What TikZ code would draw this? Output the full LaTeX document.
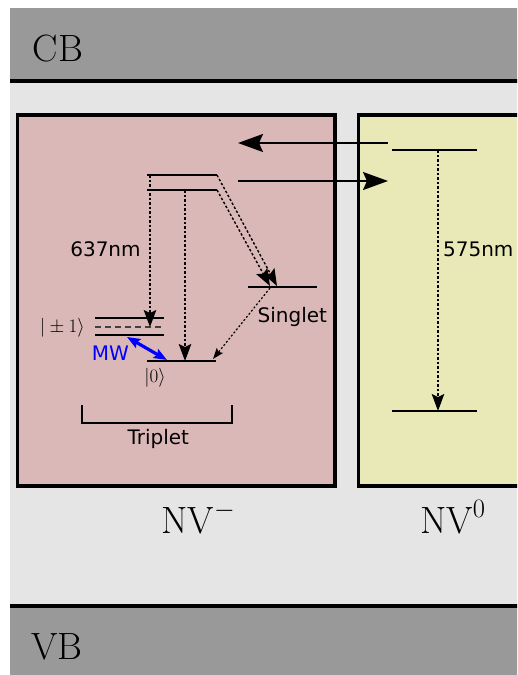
\RequirePackage{fix-cm}
\documentclass[tikz,border=0pt]{standalone}
\usepackage{fontspec}
\newfontfamily\dejavu{DejaVu Sans}
\usetikzlibrary{arrows.meta}
\definecolor{bandgrey}{HTML}{999999}
\definecolor{gapgrey}{HTML}{E5E5E5}
\definecolor{nvred}{HTML}{DBB8B8}
\definecolor{nvyel}{HTML}{E9E9B8}
\tikzset{
 bigtext/.style={font=\fontsize{38}{44}\selectfont, inner sep=0pt},
 smalltext/.style={font=\dejavu\fontsize{20}{24}\selectfont, inner sep=0pt},
 mathlabel/.style={font=\fontsize{19}{23}\selectfont, inner sep=0pt},
 level/.style={line width=2pt},
 boxline/.style={line width=3.5pt},
 bandline/.style={line width=3.5pt},
 transfer/.style={line width=2pt, -{Stealth[length=25pt,width=18pt,inset=4pt]}},
 decay/.style={line width=1.4pt, dash pattern=on 2.5pt off 2pt, -{Stealth[length=17pt,width=12.5pt,inset=3pt]}},
 smalldecay/.style={line width=1.2pt, dash pattern=on 2pt off 2pt, -{Stealth[length=11pt,width=8pt,inset=2pt]}},
 mwarrow/.style={blue, line width=3.2pt, {Stealth[length=13pt,width=10pt,inset=2pt]}-{Stealth[length=13pt,width=10pt,inset=2pt]}}
}
\begin{document}
\begin{tikzpicture}[x=1pt,y=-1pt]
\useasboundingbox (0,0) rectangle (517,675);
\clip (0,0) rectangle (517,675);
\fill[white] (0,0) rectangle (517,675);
% bands
\fill[bandgrey] (10,8) rectangle (540,81);
\fill[gapgrey] (10,81) rectangle (540,606);
\fill[bandgrey] (10,606) rectangle (540,690);
\draw[bandline] (10,81) -- (540,81);
\draw[bandline] (10,606) -- (540,606);
% boxes
\draw[boxline, fill=nvred] (17.5,115) rectangle (335,486);
\draw[boxline, fill=nvyel] (358.7,115) rectangle (580,486);
% level coordinates
\coordinate (E1L) at (147,175); \coordinate (E1R) at (217,175);
\coordinate (E2L) at (147,190); \coordinate (E2R) at (217,190);
\coordinate (SL) at (248,287); \coordinate (SR) at (317,287);
\coordinate (P1L) at (95,318); \coordinate (P1R) at (164,318);
\coordinate (PmL) at (95,327); \coordinate (PmR) at (164,327);
\coordinate (M1L) at (95,335); \coordinate (M1R) at (164,335);
\coordinate (G0L) at (147,361); \coordinate (G0R) at (216,361);
\coordinate (Y1L) at (392,149.5); \coordinate (Y1R) at (477,149.5);
\coordinate (Y0L) at (392,411); \coordinate (Y0R) at (477,411);
% levels
\draw[level] (E1L) -- (E1R);
\draw[level] (E2L) -- (E2R);
\draw[level] (SL) -- (SR);
\draw[level] (P1L) -- (P1R);
\draw[line width=1.3pt, dash pattern=on 6pt off 4pt, black!75] (PmL) -- (PmR);
\draw[level] (M1L) -- (M1R);
\draw[level] (G0L) -- (G0R);
\draw[level] (Y1L) -- (Y1R);
\draw[level] (Y0L) -- (Y0R);
% arrow end points
\coordinate (a1s) at (150,175); \coordinate (a1e) at (150,327);
\coordinate (a2s) at (185,190); \coordinate (a2e) at (185,361);
\coordinate (s1e) at (277,286); \coordinate (s2e) at (270,286);
\coordinate (ss) at (270,288); \coordinate (se) at (213,359);
\coordinate (ys) at (438,150); \coordinate (ye) at (438,411);
\coordinate (tlS) at (388,143); \coordinate (tlE) at (238,143);
\coordinate (trS) at (238,181); \coordinate (trE) at (388,181);
\coordinate (mwS) at (127,337); \coordinate (mwE) at (167,360);
% transitions
\draw[decay] (a1s) -- (a1e);
\draw[decay] (a2s) -- (a2e);
\draw[decay] (E1R) -- (s1e);
\draw[decay] (E2R) -- (s2e);
\draw[smalldecay] (ss) -- (se);
\draw[decay] (ys) -- (ye);
\draw[transfer] (tlS) -- (tlE);
\draw[transfer] (trS) -- (trE);
\draw[mwarrow] (mwS) -- (mwE);
% triplet bracket
\coordinate (b1) at (81.7,405); \coordinate (b2) at (81.7,423);
\coordinate (b3) at (231.7,423); \coordinate (b4) at (231.7,405);
\draw[line width=2pt] (b1) -- (b2) -- (b3) -- (b4);
% labels
\node[bigtext] (cb) at (58,48.5) {CB};
\node[bigtext] (vb) at (57,646.5) {VB};
\node[bigtext, anchor=base] (nvm) at (198.5,533) {$\mathrm{NV}^{-}$};
\node[bigtext, anchor=base] (nvz) at (453,533) {$\mathrm{NV}^{0}$};
\node[smalltext, anchor=base] (l637) at (105.5,256.7) {637nm};
\node[smalltext, anchor=base] (l575) at (478.3,256.7) {575nm};
\node[smalltext, anchor=base] (sing) at (292.3,322) {Singlet};
\node[smalltext, anchor=base, text=blue] (mw) at (110.4,360) {MW};
\node[smalltext, anchor=base] (trip) at (158.3,444) {Triplet};
\node[mathlabel, anchor=base] (pm1) at (62.5,332) {$|\pm1\rangle$};
\node[mathlabel, anchor=base] (ket0) at (155,382) {$|0\rangle$};
\end{tikzpicture}
\end{document}
